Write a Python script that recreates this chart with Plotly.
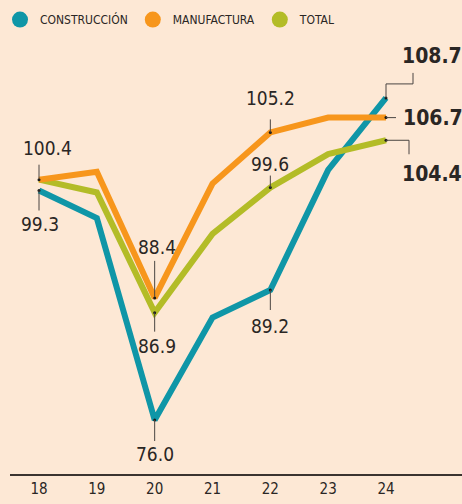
import plotly.graph_objects as go

# ---- data ----
years = [18, 19, 20, 21, 22, 23, 24]
tick_labels = ["18", "19", "20", "21", "22", "23", "24"]
construccion = [99.3, 96.5, 76.0, 86.4, 89.2, 101.4, 108.7]
manufactura = [100.4, 101.2, 88.4, 100.0, 105.2, 106.7, 106.7]
total = [100.4, 99.1, 86.9, 94.9, 99.6, 103.0, 104.4]
series_names = ["CONSTRUCCIÓN", "MANUFACTURA", "TOTAL"]

# ---- style ----
TEAL = "#0F96A7"
ORANGE = "#F7961C"
GREEN = "#B3BC27"
BG = "#FDE8D5"
TXT = "#2A2624"
LEAD = "#4A4542"
FONT = "DejaVu Sans Condensed, Liberation Sans Narrow, sans-serif"

fig = go.Figure()

series = [(construccion, TEAL), (manufactura, ORANGE), (total, GREEN)]
for vals, col in [(construccion, TEAL), (total, GREEN), (manufactura, ORANGE)]:
    fig.add_trace(go.Scatter(x=years, y=vals, mode="lines",
                             line=dict(color=col, width=6),
                             showlegend=False, hoverinfo="skip"))

# legend entries as circles
for name, (vals, col) in zip(series_names, series):
    fig.add_trace(go.Scatter(x=[None], y=[None], mode="markers", name=name,
                             marker=dict(color=col, size=16, symbol="circle")))

# labeled points: (series values, index, text, dx, dy(screen-down), leader y0, leader y1)
labels = [
    (total, 0, "100.4", 8, -32, -15, -1),
    (construccion, 0, "99.3", 1, 33, 0, 20),
    (manufactura, 2, "88.4", 2, -51, -37, -1),
    (total, 2, "86.9", 2, 33, 0, 19),
    (construccion, 2, "76.0", 0, 34, 0, 21),
    (construccion, 4, "89.2", 0, 36, 0, 20),
    (manufactura, 4, "105.2", 0, -34, -13, 0),
    (total, 4, "99.6", 0, -24, -12, 0),
]

dot_x, dot_y = [], []
for vals, i, txt, dx, dy, l0, l1 in labels:
    x, y = years[i], vals[i]
    dot_x.append(x); dot_y.append(y)
    fig.add_annotation(x=x, y=y, text=txt, showarrow=False,
                       xshift=dx, yshift=-dy,
                       font=dict(family=FONT, size=19, color=TXT))
    fig.add_shape(type="line", xref="x", yref="y", xsizemode="pixel", ysizemode="pixel",
                  xanchor=x, yanchor=y, x0=0, x1=0, y0=-l0, y1=-l1,
                  line=dict(color=LEAD, width=1))

# right-side bold end labels
end_i = len(years) - 1
end_labels = [
    (construccion, "108.7", 14, -42, "M0,0 L0,14 L27,14 L27,25"),
    (manufactura, "106.7", 15, 0, "M0,0 L10,0"),
    (total, "104.4", 14, 34, "M0,0 L23,0 L23,-14"),
]
for vals, txt, dx, dy, path in end_labels:
    x, y = years[end_i], vals[end_i]
    dot_x.append(x); dot_y.append(y)
    fig.add_annotation(x=x, y=y, text="<b>" + txt + "</b>", showarrow=False,
                       xanchor="left", xshift=dx, yshift=-dy,
                       font=dict(family=FONT, size=21, color=TXT))
    fig.add_shape(type="path", xref="x", yref="y", xsizemode="pixel", ysizemode="pixel",
                  xanchor=x, yanchor=y, path=path,
                  line=dict(color=LEAD, width=1))

fig.add_trace(go.Scatter(x=dot_x, y=dot_y, mode="markers",
                         marker=dict(color="#1a1a1a", size=3),
                         showlegend=False, hoverinfo="skip"))

fig.update_layout(
    width=462, height=504,
    margin=dict(l=10, r=0, t=40, b=30),
    paper_bgcolor=BG, plot_bgcolor=BG,
    font=dict(family=FONT, color=TXT),
    showlegend=True,
    legend=dict(orientation="h", xref="container", yref="container",
                x=-0.021, y=0.99, xanchor="left", yanchor="top",
                font=dict(family=FONT, size=12, color=TXT),
                bgcolor="rgba(0,0,0,0)", itemclick=False),
    xaxis=dict(range=[17.4985, 25.314], tickvals=years, ticktext=tick_labels,
               showline=True, linecolor="#3a3330", linewidth=1.5,
               showgrid=False, zeroline=False, ticks="",
               tickfont=dict(family=FONT, size=15, color=TXT), fixedrange=True),
    yaxis=dict(range=[70.52, 114.58], visible=False, showgrid=False,
               zeroline=False, fixedrange=True),
)

fig.write_html("out.html", config={"displayModeBar": False},
               post_script="document.body.style.margin='0px';document.body.style.background='" + BG + "';")
